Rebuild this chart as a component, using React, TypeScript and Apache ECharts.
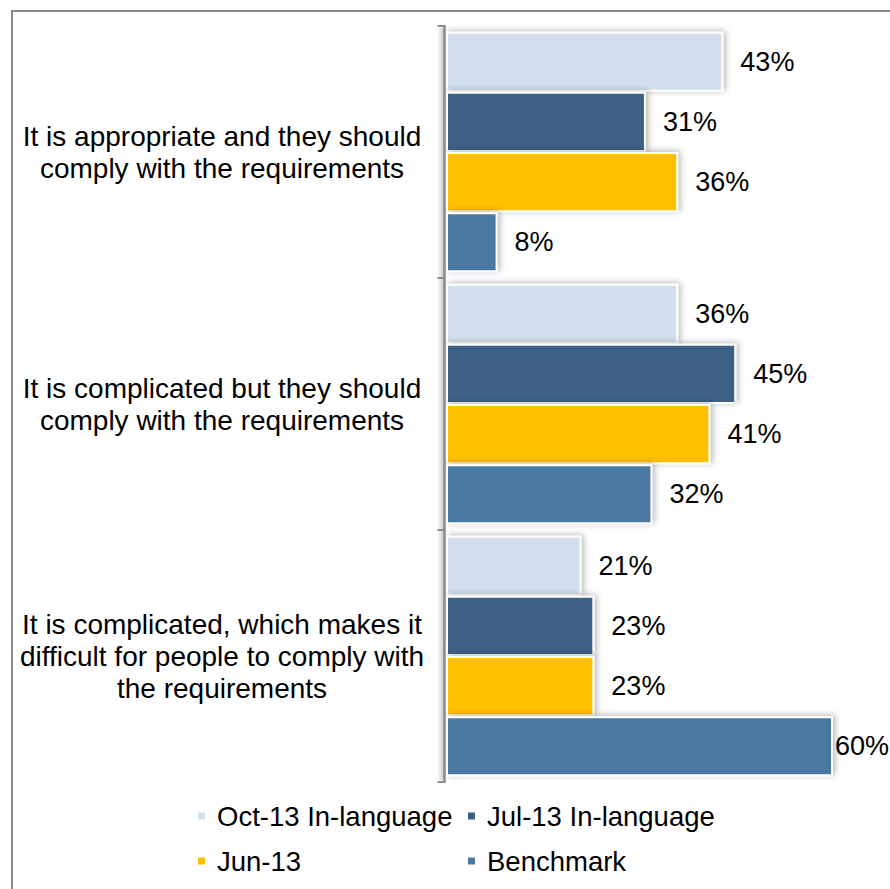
import React, { useEffect, useRef } from "react";
import * as echarts from "echarts";

const categories = [
  "It is appropriate and they should\ncomply with the requirements",
  "It is complicated but they should\ncomply with the requirements",
  "It is complicated, which makes it\ndifficult for people to comply with\nthe requirements",
];
const seriesNames = ["Oct-13 In-language", "Jul-13 In-language", "Jun-13", "Benchmark"];
const oct13 = [43, 36, 21];
const jul13 = [31, 45, 23];
const jun13 = [36, 41, 23];
const benchmark = [8, 32, 60];
const seriesValues = [oct13, jul13, jun13, benchmark];
const colors = ["#D3DFEC", "#3D6185", "#FFC000", "#4A78A0"];

const FONT = "'Liberation Sans', Arial, sans-serif";
const X_MAX = 60;

export default function App() {
  const ref = useRef<HTMLDivElement>(null);
  useEffect(() => {
    if (!ref.current) return;
    const chart = echarts.init(ref.current, null, { renderer: "svg" });
    const series = seriesNames.map((name, i) => ({
      name,
      type: "bar",
      barGap: "0%",
      barCategoryGap: "4.5%",
      itemStyle: {
        color: colors[i],
        borderColor: "#FFFFFF",
        borderWidth: 2,
        shadowBlur: 6,
        shadowColor: "rgba(0,0,0,0.3)",
        shadowOffsetX: 2,
        shadowOffsetY: -1,
      },
      label: {
        show: true,
        position: "right",
        distance: 17,
        formatter: "{c}%",
        color: "#000",
        fontSize: 27,
        fontFamily: FONT,
        padding: [4, 0, 0, 0],
      },
      data: seriesValues[i].map((v) =>
        v >= X_MAX ? { value: v, label: { distance: 2 } } : v
      ),
    }));
    const legendText = {
      fontSize: 27.5,
      fontFamily: FONT,
      color: "#000",
      lineHeight: 30,
      width: 241,
      overflow: "none",
      padding: [0, 0, 0, 6],
    };
    const legendBase = {
      left: 196,
      padding: 0,
      icon: "rect",
      itemWidth: 9,
      itemHeight: 9,
      itemGap: 8,
      selectedMode: false,
      textStyle: legendText,
    };
    chart.setOption({
      animation: false,
      backgroundColor: "#FFFFFF",
      color: colors,
      graphic: [
        {
          type: "rect",
          shape: { x: 12, y: 11, width: 900, height: 900 },
          style: { fill: "none", stroke: "#8C8C8C", lineWidth: 2 },
          silent: true,
          z: -1,
        },
        {
          type: "rect",
          shape: { x: 437, y: 28, width: 7, height: 752 },
          style: {
            fill: new echarts.graphic.LinearGradient(0, 0, 1, 0, [
              { offset: 0, color: "rgba(0,0,0,0)" },
              { offset: 1, color: "rgba(0,0,0,0.22)" },
            ]),
          },
          silent: true,
          z: 0,
        },
      ],
      grid: { left: 446, top: 26, width: 387, height: 756, containLabel: false },
      xAxis: {
        type: "value",
        min: 0,
        max: X_MAX,
        show: false,
      },
      yAxis: {
        type: "category",
        inverse: true,
        data: categories,
        offset: 1.5,
        z: 3,
        axisLine: {
          show: true,
          onZero: false,
          lineStyle: {
            color: "#8C8C8C",
            width: 2.5,
          },
        },
        axisTick: {
          show: true,
          length: 7,
          lineStyle: { color: "#8C8C8C", width: 2 },
        },
        axisLabel: {
          margin: 222.5,
          align: "center",
          fontSize: 28,
          lineHeight: 32,
          fontFamily: FONT,
          color: "#000",
          padding: [4, 0, 0, 0],
        },
        splitLine: { show: false },
      },
      legend: [
        { ...legendBase, data: [seriesNames[0], seriesNames[1]], top: 801 },
        { ...legendBase, data: [seriesNames[2], seriesNames[3]], top: 846 },
      ],
      series,
    });
    return () => chart.dispose();
  }, []);
  return (
    <div
      ref={ref}
      style={{ position: "fixed", left: 0, top: 0, width: 890, height: 889 }}
    />
  );
}
